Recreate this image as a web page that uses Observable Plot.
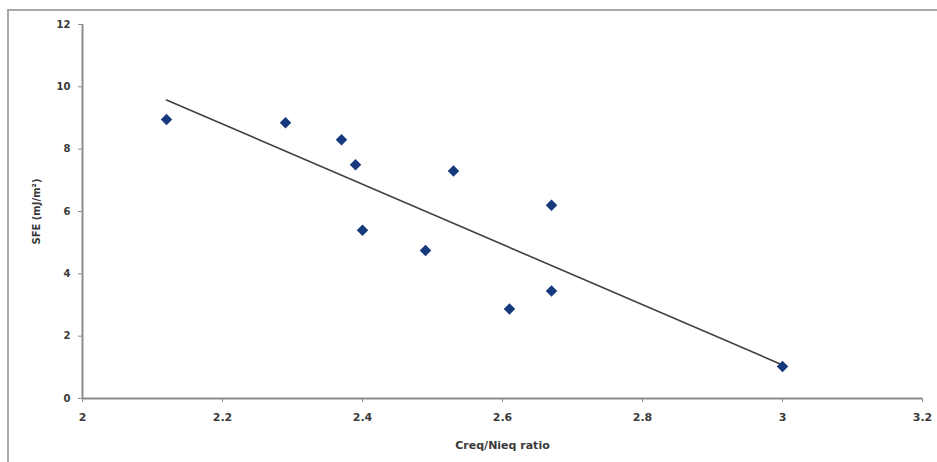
<!DOCTYPE html>
<html>
<head>
<meta charset="utf-8">
<script src="https://cdn.jsdelivr.net/npm/d3@7"></script>
<script src="https://cdn.jsdelivr.net/npm/@observablehq/plot@0.6"></script>
<style>
  html, body { margin: 0; padding: 0; background: #fff; }
  #wrap { position: relative; width: 937px; height: 462px; overflow: hidden; }
  #border { position: absolute; left: 7px; top: 9px; width: 1000px; height: 600px;
            border-top: 2px solid #a8a8a8; border-left: 2px solid #a8a8a8; }
  #chart { position: absolute; left: 0; top: 0; }
</style>
</head>
<body>
<div id="wrap"><div id="border"></div><div id="chart"></div></div>
<script>
const creqNieq = [2.12, 2.29, 2.37, 2.39, 2.40, 2.49, 2.53, 2.61, 2.67, 2.67, 3.00];
const sfe      = [8.95, 8.85, 8.30, 7.50, 5.40, 4.75, 7.30, 2.87, 6.20, 3.45, 1.03];
const xTicks = [2, 2.2, 2.4, 2.6, 2.8, 3, 3.2];
const yTicks = [0, 2, 4, 6, 8, 10, 12];

const data = creqNieq.map((x, i) => ({x, y: sfe[i]}));

const chart = Plot.plot({
  width: 937,
  height: 462,
  marginLeft: 82,
  marginRight: 15,
  marginTop: 24,
  marginBottom: 64,
  style: {fontFamily: "DejaVu Sans, Verdana, sans-serif", fontSize: "11px", fontWeight: "bold", color: "#3a3a3a", background: "transparent"},
  x: {domain: [2, 3.2]},
  y: {domain: [0, 12]},
  marks: [
    Plot.axisY({ticks: yTicks, tickSize: 4, tickPadding: 8, tickFormat: d => String(d),
      stroke: "#8c8c8c", label: "SFE (mJ/m²)", labelAnchor: "center", labelArrow: "none", labelOffset: 50,
      fontSize: 10}),
    Plot.axisX({ticks: xTicks, tickSize: 4, tickPadding: 11, tickFormat: d => String(d),
      stroke: "#8c8c8c", label: "Creq/Nieq ratio", labelAnchor: "center", labelArrow: "none", labelOffset: 50}),
    Plot.ruleX([2], {stroke: "#8c8c8c", strokeWidth: 2}),
    Plot.ruleY([0], {stroke: "#8c8c8c", strokeWidth: 2}),
    Plot.linearRegressionY(data, {x: "x", y: "y", ci: 0, stroke: "#404040", strokeWidth: 1.6}),
    Plot.dot(data, {x: "x", y: "y", symbol: "diamond2", r: 5.2, fill: "#173a7e", stroke: "none"})
  ]
});
document.getElementById("chart").appendChild(chart);
</script>
</body>
</html>
